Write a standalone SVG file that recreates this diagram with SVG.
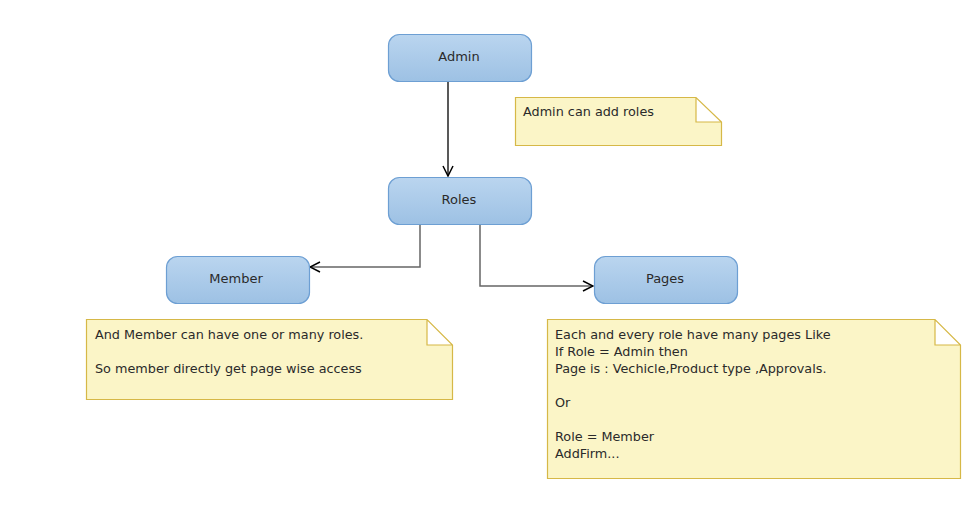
<svg xmlns="http://www.w3.org/2000/svg" width="980" height="507" viewBox="0 0 980 507">
<defs>
<linearGradient id="nodeFill" x1="0" y1="0" x2="0" y2="1">
<stop offset="0" stop-color="#bad5ef"/>
<stop offset="1" stop-color="#9dc1e4"/>
</linearGradient>
<marker id="arrow" viewBox="0 0 12 12" refX="11" refY="6" markerWidth="12" markerHeight="12" markerUnits="userSpaceOnUse" orient="auto">
<path d="M1,1 L11,6 L1,11" fill="none" stroke="#000" stroke-width="1.5"/>
</marker>
</defs>
<style>
.node rect{fill:url(#nodeFill);stroke:#6d9fd3;stroke-width:1.2}
.node text{font-family:"DejaVu Sans",Verdana,sans-serif;font-size:13px;fill:#2a2a2a;text-anchor:middle}
.note path{fill:#fbf5c7;stroke:#d6b847;stroke-width:1.2}
.note text{font-family:"DejaVu Sans",Verdana,sans-serif;font-size:12.8px;fill:#2a2a2a}
.conn{fill:none;stroke-width:1.5;marker-end:url(#arrow)}
</style>
<rect width="980" height="507" fill="#fff"/>
<g id="connectors">
<path class="conn" d="M448,81 V176" stroke="#222"/>
<path class="conn" d="M420,224 V267 H310" stroke="#666"/>
<path class="conn" d="M480,224 V286 H593" stroke="#666"/>
</g>
<g id="admin" class="node"><rect x="388.5" y="34.5" width="143" height="47" rx="11"/><text x="459" y="61">Admin</text></g>
<g id="roles" class="node"><rect x="388.5" y="177.5" width="143" height="47" rx="11"/><text x="459" y="204">Roles</text></g>
<g id="member" class="node"><rect x="166.5" y="256.5" width="143" height="47" rx="11"/><text x="236" y="283">Member</text></g>
<g id="pages" class="node"><rect x="594.5" y="256.5" width="143" height="47" rx="11"/><text x="665" y="283">Pages</text></g>
<g id="note-admin" class="note">
<path d="M515.5,97.5 H696 L721.5,122 V145.5 H515.5 Z M696,97.5 V122 H721.5"/>
<text x="523" y="116">Admin can add roles</text>
</g>
<g id="note-member" class="note">
<path d="M86.5,319.5 H427 L452.5,345 V399.5 H86.5 Z M427,319.5 V345 H452.5"/>
<text x="95" y="339">And Member can have one or many roles.</text>
<text x="95" y="373">So member directly get page wise access</text>
</g>
<g id="note-pages" class="note">
<path d="M547.5,319.5 H935 L960.5,345 V478.5 H547.5 Z M935,319.5 V345 H960.5"/>
<text x="555" y="339">Each and every role have many pages Like</text>
<text x="555" y="356">If Role = Admin then</text>
<text x="555" y="373">Page is : Vechicle,Product type ,Approvals.</text>
<text x="555" y="407">Or</text>
<text x="555" y="441">Role = Member</text>
<text x="555" y="458">AddFirm...</text>
</g>
</svg>
